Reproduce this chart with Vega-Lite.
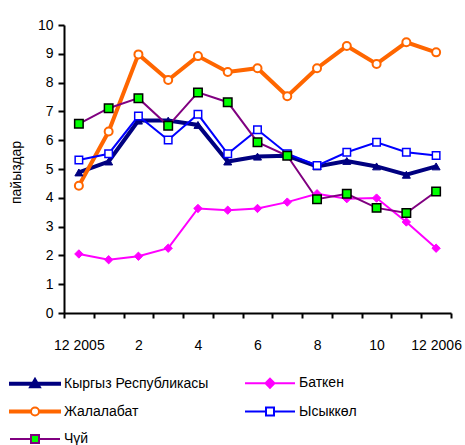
{
  "$schema": "https://vega.github.io/schema/vega-lite/v6.json",
  "width": 387,
  "height": 288,
  "autosize": {"type": "none"},
  "padding": {"left": 64, "top": 25, "right": 14, "bottom": 132},
  "background": "white",
  "config": {
    "view": {"stroke": null},
    "font": "Liberation Sans",
    "axis": {
      "grid": false,
      "domainColor": "black",
      "domainWidth": 2,
      "tickColor": "black",
      "tickWidth": 2,
      "labelColor": "black",
      "titleColor": "black",
      "labelFont": "Liberation Sans",
      "titleFont": "Liberation Sans",
      "labelFontSize": 14,
      "titleFontSize": 14,
      "titleFontWeight": "normal"
    },
    "legend": {
      "orient": "none",
      "legendX": -36,
      "legendY": 351,
      "columns": 2,
      "columnPadding": 32,
      "rowPadding": 11.5,
      "labelFont": "Liberation Sans",
      "labelFontSize": 14,
      "labelColor": "black",
      "labelOffset": 22,
      "symbolStrokeWidth": 2,
      "symbolSize": 100
    }
  },
  "data": {
    "values": [
      {"m": "12 2005", "Кыргыз Республикасы": 4.88, "Баткен": 2.05, "Жалалабат": 4.42, "Ысыккөл": 5.31, "Чүй": 6.57},
      {"m": "1", "Кыргыз Республикасы": 5.26, "Баткен": 1.85, "Жалалабат": 6.30, "Ысыккөл": 5.53, "Чүй": 7.11},
      {"m": "2", "Кыргыз Республикасы": 6.68, "Баткен": 1.97, "Жалалабат": 8.98, "Ысыккөл": 6.84, "Чүй": 7.46},
      {"m": "3", "Кыргыз Республикасы": 6.68, "Баткен": 2.25, "Жалалабат": 8.09, "Ысыккөл": 6.01, "Чүй": 6.50},
      {"m": "4", "Кыргыз Республикасы": 6.53, "Баткен": 3.63, "Жалалабат": 8.92, "Ысыккөл": 6.90, "Чүй": 7.66},
      {"m": "5", "Кыргыз Республикасы": 5.26, "Баткен": 3.57, "Жалалабат": 8.37, "Ысыккөл": 5.53, "Чүй": 7.32},
      {"m": "6", "Кыргыз Республикасы": 5.43, "Баткен": 3.63, "Жалалабат": 8.50, "Ысыккөл": 6.36, "Чүй": 5.93},
      {"m": "7", "Кыргыз Республикасы": 5.46, "Баткен": 3.85, "Жалалабат": 7.53, "Ысыккөл": 5.53, "Чүй": 5.46},
      {"m": "8", "Кыргыз Республикасы": 5.09, "Баткен": 4.14, "Жалалабат": 8.50, "Ысыккөл": 5.12, "Чүй": 3.95},
      {"m": "9", "Кыргыз Республикасы": 5.28, "Баткен": 3.97, "Жалалабат": 9.27, "Ысыккөл": 5.58, "Чүй": 4.14},
      {"m": "10", "Кыргыз Республикасы": 5.09, "Баткен": 3.99, "Жалалабат": 8.65, "Ысыккөл": 5.93, "Чүй": 3.65},
      {"m": "11", "Кыргыз Республикасы": 4.80, "Баткен": 3.16, "Жалалабат": 9.40, "Ысыккөл": 5.58, "Чүй": 3.47},
      {"m": "12 2006", "Кыргыз Республикасы": 5.09, "Баткен": 2.25, "Жалалабат": 9.05, "Ысыккөл": 5.47, "Чүй": 4.22}
    ]
  },
  "transform": [
    {"fold": ["Кыргыз Республикасы", "Баткен", "Жалалабат", "Ысыккөл", "Чүй"], "as": ["s", "v"]}
  ],
  "encoding": {
    "x": {
      "field": "m",
      "type": "ordinal",
      "scale": {
        "type": "band",
        "paddingInner": 0,
        "paddingOuter": 0,
        "domain": ["12 2005", "1", "2", "3", "4", "5", "6", "7", "8", "9", "10", "11", "12 2006"]
      },
      "axis": {
        "title": null,
        "tickBand": "extent",
        "tickSize": 5,
        "labelAngle": 0,
        "labelPadding": 20,
        "labelOverlap": false,
        "labelExpr": "indexof(['1','3','5','7','9','11'], datum.value) >= 0 ? '' : datum.value"
      }
    },
    "y": {
      "field": "v",
      "type": "quantitative",
      "scale": {"domain": [0, 10], "nice": false},
      "axis": {
        "title": "пайыздар",
        "values": [0, 1, 2, 3, 4, 5, 6, 7, 8, 9, 10],
        "tickSize": 6,
        "labelPadding": 5,
        "titleAngle": 270,
        "titleX": -43.5,
        "titleY": 147,
        "titleAlign": "center",
        "titleBaseline": "alphabetic"
      }
    }
  },
  "layer": [
    {
      "mark": {"type": "line"},
      "encoding": {
        "stroke": {
          "field": "s",
          "type": "nominal",
          "scale": {
            "domain": ["Кыргыз Республикасы", "Жалалабат", "Чүй", "Баткен", "Ысыккөл"],
            "range": ["#000080", "#FF6600", "#800080", "#FF00FF", "#0000FF"]
          },
          "legend": {"title": null}
        },
        "strokeWidth": {
          "condition": {"test": "datum.s === 'Кыргыз Республикасы' || datum.s === 'Жалалабат'", "value": 4},
          "value": 2
        }
      }
    },
    {
      "transform": [{"filter": "false"}],
      "mark": {"type": "point", "filled": true, "opacity": 1},
      "encoding": {
        "shape": {
          "field": "s",
          "type": "nominal",
          "scale": {
            "domain": ["Кыргыз Республикасы", "Жалалабат", "Чүй", "Баткен", "Ысыккөл"],
            "range": [
              "M-5,-0.2H5V0.2H-5ZM0,-1L1,0.7H-1Z",
              "M-5,-0.2H-1V0.2H-5ZM1,-0.2H5V0.2H1ZM-0.8,0A0.8,0.8,0,1,0,0.8,0A0.8,0.8,0,1,0,-0.8,0Z",
              "M-5,0H-0.8M0.8,0H5M-0.8,-0.8H0.8V0.8H-0.8Z",
              "M-5,0H5M0,-0.9L0.9,0L0,0.9L-0.9,0Z",
              "M-5,0H-0.8M0.8,0H5M-0.8,-0.8H0.8V0.8H-0.8Z"
            ]
          },
          "legend": {"title": null}
        },
        "fill": {
          "field": "s",
          "type": "nominal",
          "scale": {
            "domain": ["Кыргыз Республикасы", "Жалалабат", "Чүй", "Баткен", "Ысыккөл"],
            "range": ["#000080", "#FFFFFF", "#00FF00", "#FF00FF", "#FFFFFF"]
          },
          "legend": {"title": null}
        },
        "stroke": {"field": "s", "type": "nominal", "legend": {"title": null}}
      }
    },
    {
      "transform": [{"filter": "datum.s === 'Кыргыз Республикасы'"}],
      "mark": {"type": "point", "shape": "triangle-up", "filled": true, "fill": "#000080", "stroke": "#000080", "strokeWidth": 1, "size": 64, "opacity": 1}
    },
    {
      "transform": [{"filter": "datum.s === 'Баткен'"}],
      "mark": {"type": "point", "shape": "diamond", "filled": true, "fill": "#FF00FF", "stroke": "#FF00FF", "strokeWidth": 1, "size": 70, "opacity": 1}
    },
    {
      "transform": [{"filter": "datum.s === 'Жалалабат'"}],
      "mark": {"type": "point", "shape": "circle", "filled": true, "fill": "#FFFFFF", "stroke": "#FF6600", "strokeWidth": 2, "size": 64, "opacity": 1}
    },
    {
      "transform": [{"filter": "datum.s === 'Ысыккөл'"}],
      "mark": {"type": "point", "shape": "square", "filled": true, "fill": "#FFFFFF", "stroke": "#0000FF", "strokeWidth": 1.5, "size": 56, "opacity": 1}
    },
    {
      "transform": [{"filter": "datum.s === 'Чүй'"}],
      "mark": {"type": "point", "shape": "square", "filled": true, "fill": "#00FF00", "stroke": "#000000", "strokeWidth": 1.5, "size": 72, "opacity": 1}
    }
  ]
}
